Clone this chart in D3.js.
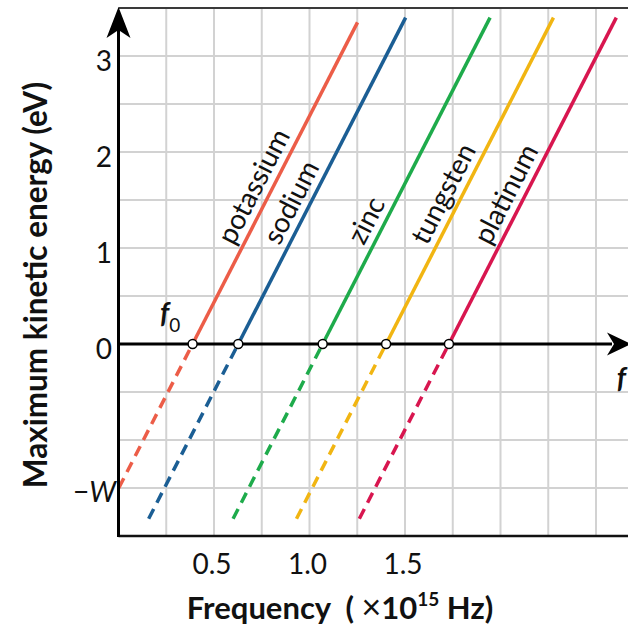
<!DOCTYPE html>
<html>
<head>
<meta charset="utf-8">
<script src="https://cdn.jsdelivr.net/npm/d3@7"></script>
<style>
  html, body { margin: 0; padding: 0; background: #fff; }
  svg { display: block; font-family: "Lato", "Open Sans", sans-serif; }
</style>
</head>
<body>
<svg id="chart" width="628" height="625"></svg>
<script>
// --- data ---
const metals = ["potassium", "sodium", "zinc", "tungsten", "platinum"];
const thresholdFreq = [0.388, 0.627, 1.069, 1.401, 1.730];   // f0, x10^15 Hz
const topEnergy = [3.35, 3.40, 3.40, 3.40, 3.40];           // end of solid line, eV
const bottomEnergy = [-1.50, -1.82, -1.82, -1.82, -1.82];   // end of dashed line, eV
const slope = 3.88;                                          // eV per 10^15 Hz (h)
const xTicks = [0.5, 1.0, 1.5];
const xTickLabels = ["0.5", "1.0", "1.5"];
const yTicks = [0, 1, 2, 3];
const workLevel = -1.5;                                      // -W mark on the energy axis
const xGrid = [0.25, 0.5, 0.75, 1.0, 1.25, 1.5, 1.75, 2.0, 2.25, 2.5];
const yGrid = [-1.5, -1.0, -0.5, 0.5, 1.0, 1.5, 2.0, 2.5, 3.0];
const metalColors = ["#ec5d48", "#1b5e94", "#1eab4b", "#f1b512", "#d8164f"];

const W = 628, H = 625;
const svg = d3.select("#chart");

const x = d3.scaleLinear().domain([0, 2.5]).range([118.5, 596]);
const y = d3.scaleLinear().domain([-2, 3.5]).range([536, 8]);
const right = W;

// grid
const grid = svg.append("g").attr("stroke", "#d2d2d2").attr("stroke-width", 2);
grid.selectAll("line.v").data(xGrid).join("line")
  .attr("class", "v")
  .attr("x1", d => x(d)).attr("x2", d => x(d))
  .attr("y1", y(3.5)).attr("y2", y(-2));
grid.selectAll("line.h").data(yGrid).join("line")
  .attr("class", "h")
  .attr("x1", x(0)).attr("x2", right)
  .attr("y1", d => y(d)).attr("y2", d => y(d));

// frame top / bottom
svg.append("line").attr("x1", x(0)).attr("x2", right)
  .attr("y1", y(3.5)).attr("y2", y(3.5))
  .attr("stroke", "#3a3a3a").attr("stroke-width", 2);
svg.append("line").attr("x1", x(0)).attr("x2", right)
  .attr("y1", y(-2)).attr("y2", y(-2))
  .attr("stroke", "#111").attr("stroke-width", 2.5);

// metal lines
const fAt = (i, e) => thresholdFreq[i] + e / slope;
const lines = svg.append("g").attr("fill", "none").attr("stroke-width", 3.5);
metals.forEach((m, i) => {
  lines.append("line")
    .attr("x1", x(fAt(i, bottomEnergy[i]))).attr("y1", y(bottomEnergy[i]))
    .attr("x2", x(thresholdFreq[i])).attr("y2", y(0))
    .attr("stroke", metalColors[i])
    .attr("stroke-dasharray", "11,7");
  lines.append("line")
    .attr("x1", x(thresholdFreq[i])).attr("y1", y(0))
    .attr("x2", x(fAt(i, topEnergy[i]))).attr("y2", y(topEnergy[i]))
    .attr("stroke", metalColors[i]);
});

// labels along the lines
const ang = Math.atan2(y(1) - y(0), x(1 / slope) - x(0)) * 180 / Math.PI;
const rad = ang * Math.PI / 180;
const nx = Math.sin(rad), ny = -Math.cos(rad); // up direction of the rotated text
const off = 8, labelE = 0.98;
metals.forEach((m, i) => {
  const px = x(fAt(i, labelE)) + nx * off;
  const py = y(labelE) + ny * off;
  svg.append("text")
    .attr("transform", `translate(${px},${py}) rotate(${ang})`)
    .attr("font-size", 28)
    .attr("fill", "#111")
    .text(m);
});

// axes
svg.append("line").attr("x1", x(0)).attr("x2", 612)
  .attr("y1", y(0)).attr("y2", y(0))
  .attr("stroke", "#000").attr("stroke-width", 3);
svg.append("line").attr("x1", x(0)).attr("x2", x(0))
  .attr("y1", y(-2) + 1).attr("y2", 30)
  .attr("stroke", "#000").attr("stroke-width", 3);
// arrow heads
svg.append("path")
  .attr("d", `M${x(0)},7 L${x(0) + 12},38 L${x(0)},30 L${x(0) - 12},38 Z`)
  .attr("fill", "#000");
svg.append("path")
  .attr("d", `M631,${y(0)} L607,${y(0) - 11.5} L614,${y(0)} L607,${y(0) + 11.5} Z`)
  .attr("fill", "#000");

// threshold markers
svg.append("g").selectAll("circle").data(thresholdFreq).join("circle")
  .attr("cx", d => x(d)).attr("cy", y(0)).attr("r", 4.5)
  .attr("fill", "#fff").attr("stroke", "#000").attr("stroke-width", 1.5);

// x tick labels
svg.append("g").selectAll("text").data(xTicks).join("text")
  .attr("x", d => x(d) - 2).attr("y", 574)
  .attr("text-anchor", "middle").attr("font-size", 28).attr("fill", "#111")
  .text((d, i) => xTickLabels[i]);

// y tick labels
svg.append("g").selectAll("text").data(yTicks).join("text")
  .attr("x", 112).attr("y", d => y(d) + 15)
  .attr("text-anchor", "end").attr("font-size", 28).attr("fill", "#111")
  .text(d => d);

// -W
const wl = svg.append("text").attr("x", 116).attr("y", y(workLevel) + 14)
  .attr("text-anchor", "end").attr("font-size", 28).attr("fill", "#111");
wl.append("tspan").text("\u2212");
wl.append("tspan").attr("font-style", "italic").text("W");

// f0
const f0 = svg.append("text").attr("x", 160).attr("y", 323)
  .attr("font-size", 28).attr("font-style", "italic").attr("font-weight", "bold").attr("fill", "#111");
f0.append("tspan").text("f");
f0.append("tspan").attr("font-size", 19).attr("font-style", "normal").attr("font-weight", "normal")
  .attr("dy", 9).text("0");

// f on frequency axis
svg.append("text").attr("x", 626).attr("y", 388).attr("text-anchor", "end")
  .attr("font-size", 28).attr("font-style", "italic").attr("font-weight", "bold").attr("fill", "#111")
  .text("f");

// axis titles
const xt = svg.append("text").attr("x", 340).attr("y", 619).attr("text-anchor", "middle")
  .attr("font-size", 31).attr("font-weight", "bold").attr("fill", "#111");
xt.append("tspan").text("Frequency\u00a0\u00a0(\u00a0");
xt.append("tspan").attr("font-weight", "normal").attr("font-size", 34).text("\u00d7");
xt.append("tspan").text("10");
xt.append("tspan").attr("font-size", 19).attr("dy", -13).text("15");
xt.append("tspan").attr("dy", 13).text(" Hz)");

svg.append("text")
  .attr("transform", `translate(47,285) rotate(-90)`)
  .attr("text-anchor", "middle")
  .attr("font-size", 31.5).attr("font-weight", "bold").attr("fill", "#111")
  .text("Maximum kinetic energy (eV)");
</script>
</body>
</html>
